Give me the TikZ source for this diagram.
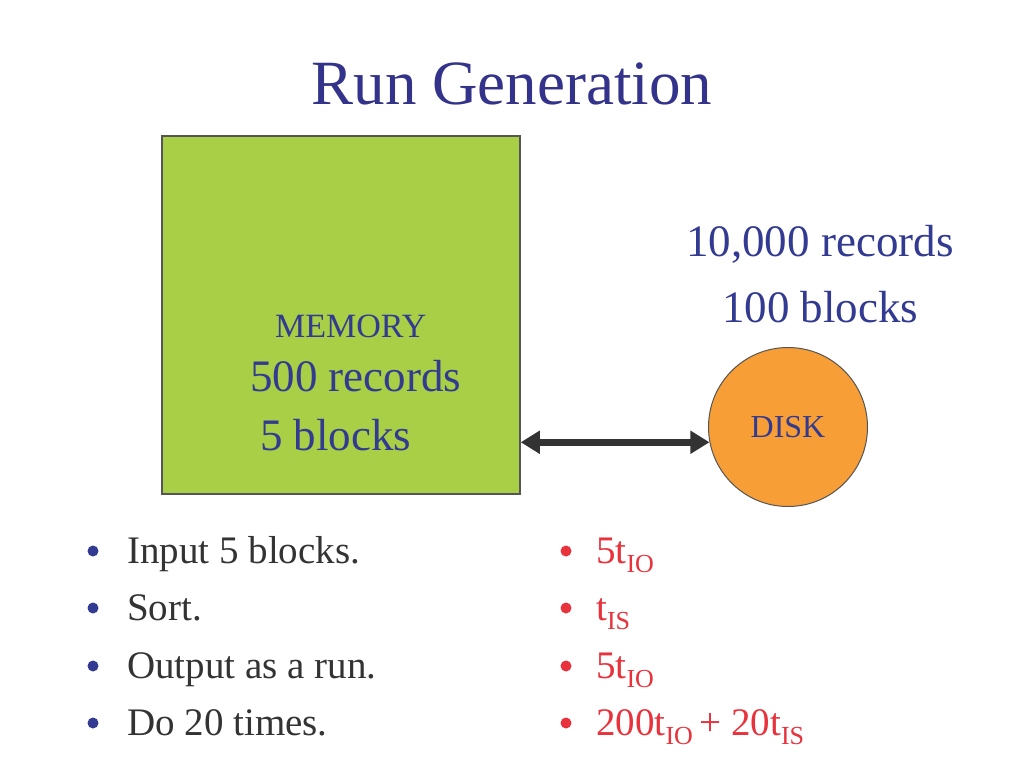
\documentclass[tikz,border=0pt]{standalone}
\usepackage{fontspec}
\setmainfont{Liberation Serif}
\usetikzlibrary{arrows.meta}
\definecolor{titleblue}{RGB}{51,51,140}
\definecolor{txtblue}{RGB}{50,58,145}
\definecolor{memgreen}{RGB}{168,207,69}
\definecolor{diskorange}{RGB}{247,158,54}
\definecolor{edgegray}{RGB}{85,85,85}
\definecolor{arrowgray}{RGB}{51,51,51}
\definecolor{bodygray}{RGB}{51,51,51}
\definecolor{costred}{RGB}{232,50,60}
\newcommand\fsz[1]{\fontsize{#1}{#1}\selectfont}
\newcommand\subidx[1]{\raisebox{-9pt}{\fsz{26}#1}}
\tikzset{
  txt/.style={inner sep=0pt, anchor=base west, text=txtblue},
  bigtxt/.style={txt, font=\fsz{45}},
  smalltxt/.style={txt, font=\fsz{34}},
  item/.style={inner sep=0pt, anchor=base west, text=bodygray, font=\fsz{39}},
  cost/.style={inner sep=0pt, anchor=base west, text=costred, font=\fsz{39}},
  dot/.style={circle, inner sep=0pt, minimum size=11pt},
  biarrow/.style={arrowgray, line width=6.5pt,
    {Triangle[length=19pt,width=22pt]}-{Triangle[length=19pt,width=22pt]}}
}
\begin{document}
\begin{tikzpicture}[x=1pt,y=-1pt]
\useasboundingbox[fill=white] (0,0) rectangle (1024,768);

% title
\node[inner sep=0pt, anchor=base, text=titleblue, font=\fsz{63}] (title) at (512,104) {Run Generation};

% memory block
\node[draw=edgegray, line width=1.5pt, fill=memgreen, minimum width=358pt, minimum height=358pt, inner sep=0pt] (mem) at (341,315) {};
\node[smalltxt] (memlabel) at (275,337) {MEMORY};
\node[bigtxt] (memrec) at (250,391) {500 records};
\node[bigtxt] (memblk) at (260,450) {5 blocks};

% disk
\node[circle, draw=edgegray, line width=1pt, fill=diskorange, minimum size=159pt, inner sep=0pt, text=txtblue, font=\fsz{32}] (disk) at (788,427) {\raisebox{-4pt}{DISK}};
\node[bigtxt] (diskrec) at (686,256) {10,000 records};
\node[bigtxt] (diskblk) at (722,322) {100 blocks};

% transfer between memory and disk
\draw[biarrow] (mem.east |- disk.191) -- (disk.191);

% steps
\foreach \y/\t [count=\i] in {563/Input 5 blocks., 620/Sort., 678/Output as a run., 735/Do 20 times.}{
  \node[dot, fill=txtblue] (ldot\i) at (93,\y-12) {};
  \node[item] (step\i) at (127,\y) {\t};
}

% costs
\foreach \y [count=\i] in {563,620,678,735}{
  \node[dot, fill=costred] (rdot\i) at (566,\y-12) {};
}
\node[cost] (cost1) at (596,563) {5t\subidx{IO}};
\node[cost] (cost2) at (596,620) {t\subidx{IS}};
\node[cost] (cost3) at (596,678) {5t\subidx{IO}};
\node[cost] (cost4) at (596,735) {200t\subidx{IO}\,+ 20t\subidx{IS}};
\end{tikzpicture}
\end{document}
